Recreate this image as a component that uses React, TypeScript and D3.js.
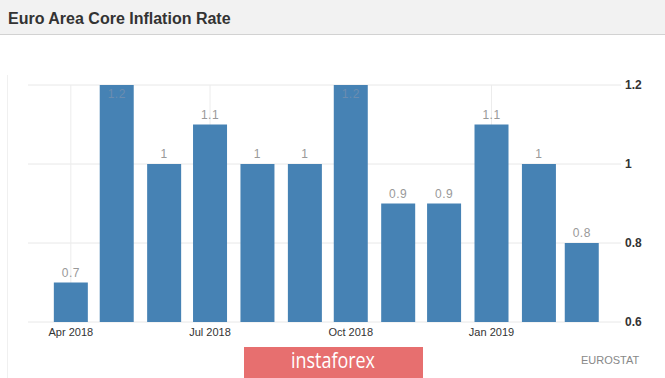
import React from "react";
import * as d3 from "d3";

const months = ["2018-04", "2018-05", "2018-06", "2018-07", "2018-08", "2018-09", "2018-10", "2018-11", "2018-12", "2019-01", "2019-02", "2019-03"];
const values = [0.7, 1.2, 1.0, 1.1, 1.0, 1.0, 1.2, 0.9, 0.9, 1.1, 1.0, 0.8];
const xTickMonths = ["2018-04", "2018-07", "2018-10", "2019-01"];
const yTicks = [0.6, 0.8, 1.0, 1.2];
const title = "Euro Area Core Inflation Rate";
const source = "EUROSTAT";
const watermark = "instaforex";

const W = 665;
const H = 378;
const parse = d3.timeParse("%Y-%m");
const fmtX = d3.timeFormat("%b %Y");
const fmtV = (v: number) => d3.format("~g")(v);

export default function App() {
  const x = d3
    .scaleTime()
    .domain([new Date(2018, 2, 4), new Date(2019, 2, 26)])
    .range([28, 620]);
  const y = d3.scaleLinear().domain([0.6, 1.2]).range([322, 85]);
  const bw = 34;
  const plotTop = y(1.2);
  const font = "'Liberation Sans', Arial, sans-serif";

  return (
    <svg width={W} height={H} style={{ position: "absolute", left: 0, top: 0 }} fontFamily={font}>
      <rect x={0} y={0} width={W} height={H} fill="#fff" />
      <rect x={0} y={0} width={W} height={34} fill="#f2f2f2" />
      <line x1={0} x2={W} y1={34.5} y2={34.5} stroke="#d2d2d2" />
      <text x={8} y={24} fontSize={16} fontWeight="bold" fill="#333">{title}</text>
      <line x1={7.5} x2={7.5} y1={75} y2={H} stroke="#f0f0f0" />

      {yTicks.map((t) => (
        <g key={"y" + t}>
          <line x1={28} x2={621} y1={y(t)} y2={y(t)} stroke="#e8e8e8" />
          <text x={625} y={y(t) + 4} fontSize={12} fontWeight="bold" fill="#333">{fmtV(t)}</text>
        </g>
      ))}
      {xTickMonths.map((m) => {
        const d = parse(m)!;
        return (
          <g key={"x" + m}>
            <line x1={x(d)} x2={x(d)} y1={y(1.2)} y2={y(0.6)} stroke="#ececec" />
            <text x={x(d)} y={336} fontSize={11} textAnchor="middle" fill="#333">{fmtX(d)}</text>
          </g>
        );
      })}

      {months.map((m, i) => {
        const d = parse(m)!;
        const cx = x(d);
        const top = y(values[i]);
        const ly = top - 6;
        const inside = ly < plotTop + 4;
        return (
          <g key={"b" + m}>
            <rect x={cx - bw / 2} y={top} width={bw} height={y(0.6) - top} fill="#4682b4" />
            <text
              x={cx}
              y={inside ? plotTop + 13 : ly}
              fontSize={12}
              textAnchor="middle"
              fill={inside ? "#6b8db0" : "#999"}
              letterSpacing={0.5}
            >
              {fmtV(values[i])}
            </text>
          </g>
        );
      })}

      <rect x={244} y={347} width={179} height={31} fill="#e76f6f" />
      <text
        x={291}
        y={368}
        fontSize={21}
        fill="#fff"
        fontFamily="'Open Sans', sans-serif"
        textLength={84}
        lengthAdjust="spacingAndGlyphs"
      >
        {watermark}
      </text>
      <text x={581} y={364} fontSize={11} fill="#888">{source}</text>
    </svg>
  );
}
